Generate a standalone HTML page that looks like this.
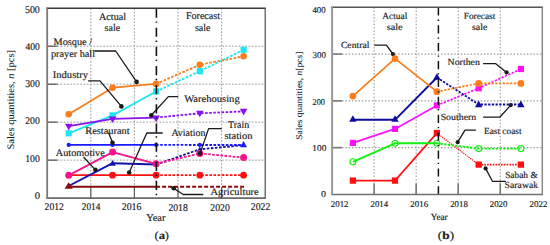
<!DOCTYPE html>
<html><head><meta charset="utf-8"><style>
html,body{margin:0;padding:0;background:#fff;width:550px;height:245px;overflow:hidden}
svg{display:block;font-family:"Liberation Serif", serif;text-rendering:geometricPrecision}
</style></head><body>
<svg width="550" height="245" viewBox="0 0 550 245">
<line x1="90.80000000000001" y1="8.2" x2="90.80000000000001" y2="198.1" stroke="#8e8e8e" stroke-width="0.85" stroke-dasharray="1.8,1.5" stroke-linecap="butt"/>
<line x1="134.4" y1="8.2" x2="134.4" y2="198.1" stroke="#8e8e8e" stroke-width="0.85" stroke-dasharray="1.8,1.5" stroke-linecap="butt"/>
<line x1="178.0" y1="8.2" x2="178.0" y2="198.1" stroke="#8e8e8e" stroke-width="0.85" stroke-dasharray="1.8,1.5" stroke-linecap="butt"/>
<line x1="221.60000000000002" y1="8.2" x2="221.60000000000002" y2="198.1" stroke="#8e8e8e" stroke-width="0.85" stroke-dasharray="1.8,1.5" stroke-linecap="butt"/>
<line x1="47.2" y1="160.12" x2="265.2" y2="160.12" stroke="#8e8e8e" stroke-width="0.85" stroke-dasharray="1.8,1.5" stroke-linecap="butt"/>
<line x1="47.2" y1="122.14" x2="265.2" y2="122.14" stroke="#8e8e8e" stroke-width="0.85" stroke-dasharray="1.8,1.5" stroke-linecap="butt"/>
<line x1="47.2" y1="84.16" x2="265.2" y2="84.16" stroke="#8e8e8e" stroke-width="0.85" stroke-dasharray="1.8,1.5" stroke-linecap="butt"/>
<line x1="47.2" y1="46.18000000000001" x2="265.2" y2="46.18000000000001" stroke="#8e8e8e" stroke-width="0.85" stroke-dasharray="1.8,1.5" stroke-linecap="butt"/>
<line x1="90.80000000000001" y1="187.6" x2="90.80000000000001" y2="198.1" stroke="#5a5a5a" stroke-width="1.2" stroke-linecap="butt"/>
<line x1="134.4" y1="187.6" x2="134.4" y2="198.1" stroke="#5a5a5a" stroke-width="1.2" stroke-linecap="butt"/>
<line x1="178.0" y1="187.6" x2="178.0" y2="198.1" stroke="#5a5a5a" stroke-width="1.2" stroke-linecap="butt"/>
<line x1="221.60000000000002" y1="187.6" x2="221.60000000000002" y2="198.1" stroke="#5a5a5a" stroke-width="1.2" stroke-linecap="butt"/>
<line x1="47.2" y1="160.12" x2="57.5" y2="160.12" stroke="#333" stroke-width="1.0" stroke-linecap="butt"/>
<line x1="47.2" y1="122.14" x2="57.5" y2="122.14" stroke="#333" stroke-width="1.0" stroke-linecap="butt"/>
<line x1="47.2" y1="84.16" x2="57.5" y2="84.16" stroke="#333" stroke-width="1.0" stroke-linecap="butt"/>
<line x1="47.2" y1="46.18000000000001" x2="57.5" y2="46.18000000000001" stroke="#333" stroke-width="1.0" stroke-linecap="butt"/>
<polyline points="68.70,186.80 156.10,186.80" fill="none" stroke="#8a0b0b" stroke-width="2.0" stroke-linecap="butt" stroke-linejoin="round"/>
<polyline points="156.10,186.80 244.50,186.80" fill="none" stroke="#8a0b0b" stroke-width="1.9" stroke-dasharray="4,2" stroke-linecap="butt" stroke-linejoin="round"/>
<polyline points="68.70,175.20 112.60,175.20 156.10,175.20" fill="none" stroke="#ff1010" stroke-width="1.7" stroke-linecap="butt" stroke-linejoin="round"/>
<polyline points="156.10,175.20 199.80,175.10 243.60,175.10" fill="none" stroke="#ff1010" stroke-width="1.7" stroke-dasharray="2.6,1.5" stroke-linecap="butt" stroke-linejoin="round"/>
<circle cx="112.6" cy="175.2" r="3.4" fill="#ff1010"/>
<circle cx="156.1" cy="175.2" r="3.4" fill="#ff1010"/>
<circle cx="199.8" cy="175.2" r="3.4" fill="#ff1010"/>
<circle cx="243.6" cy="175.2" r="3.4" fill="#ff1010"/>
<polyline points="68.70,186.00 112.60,163.20 156.10,164.50" fill="none" stroke="#1212a8" stroke-width="1.9" stroke-linecap="butt" stroke-linejoin="round"/>
<polyline points="156.10,164.50 199.80,149.30 243.60,145.20" fill="none" stroke="#1212a8" stroke-width="1.8" stroke-dasharray="2.6,1.5" stroke-linecap="butt" stroke-linejoin="round"/>
<polygon points="109.30,165.70 115.90,165.70 112.60,159.90" fill="#1212a8"/>
<polygon points="197.05,151.60 202.55,151.60 199.80,146.60" fill="#1212a8"/>
<polygon points="64.60,188.85 72.80,188.85 68.70,182.15" fill="#8a0b0b"/>
<polyline points="68.70,175.40 112.60,152.10 156.10,163.80" fill="none" stroke="#f5148a" stroke-width="1.8" stroke-linecap="butt" stroke-linejoin="round"/>
<polyline points="156.10,163.80 199.80,153.40 243.60,157.60" fill="none" stroke="#f5148a" stroke-width="1.8" stroke-dasharray="2.6,1.5" stroke-linecap="butt" stroke-linejoin="round"/>
<circle cx="68.7" cy="175.3" r="3.5" fill="#f5148a"/>
<circle cx="112.6" cy="152.1" r="3.5" fill="#f5148a"/>
<circle cx="156.1" cy="163.8" r="3.5" fill="#f5148a"/>
<circle cx="199.8" cy="153.4" r="3.5" fill="#f5148a"/>
<circle cx="243.6" cy="157.6" r="3.5" fill="#f5148a"/>
<polyline points="68.70,144.90 112.60,144.90 156.10,144.90" fill="none" stroke="#1a1aff" stroke-width="1.8" stroke-linecap="butt" stroke-linejoin="round"/>
<polyline points="156.10,144.90 199.80,145.00 243.60,145.00" fill="none" stroke="#1a1aff" stroke-width="1.8" stroke-dasharray="2.6,1.5" stroke-linecap="butt" stroke-linejoin="round"/>
<circle cx="68.7" cy="144.9" r="2.1" fill="#1a1aff"/>
<circle cx="112.6" cy="144.9" r="2.1" fill="#1a1aff"/>
<circle cx="156.1" cy="144.9" r="2.1" fill="#1a1aff"/>
<circle cx="199.8" cy="144.9" r="2.1" fill="#1a1aff"/>
<polygon points="240.20,147.30 247.00,147.30 243.60,141.10" fill="#1a1aff"/>
<polyline points="68.70,133.30 112.60,115.40 156.10,91.50" fill="none" stroke="#1fe5f3" stroke-width="1.8" stroke-linecap="butt" stroke-linejoin="round"/>
<polyline points="156.10,91.50 199.80,71.20 243.60,49.80" fill="none" stroke="#1fe5f3" stroke-width="1.8" stroke-dasharray="2.6,1.5" stroke-linecap="butt" stroke-linejoin="round"/>
<rect x="65.60" y="130.20" width="6.2" height="6.2" fill="#1fe5f3"/>
<rect x="109.50" y="112.30" width="6.2" height="6.2" fill="#1fe5f3"/>
<rect x="153.00" y="88.40" width="6.2" height="6.2" fill="#1fe5f3"/>
<rect x="196.70" y="68.10" width="6.2" height="6.2" fill="#1fe5f3"/>
<rect x="240.50" y="46.70" width="6.2" height="6.2" fill="#1fe5f3"/>
<polyline points="68.70,126.20 112.60,118.80 156.10,117.60" fill="none" stroke="#8a12f0" stroke-width="1.8" stroke-linecap="butt" stroke-linejoin="round"/>
<polyline points="156.10,117.60 199.80,113.30 243.60,111.40" fill="none" stroke="#8a12f0" stroke-width="1.8" stroke-dasharray="2.6,1.5" stroke-linecap="butt" stroke-linejoin="round"/>
<polygon points="64.90,123.80 72.50,123.80 68.70,130.40" fill="#8a12f0"/>
<polygon points="108.80,116.40 116.40,116.40 112.60,123.00" fill="#8a12f0"/>
<polygon points="152.30,115.60 159.90,115.60 156.10,122.20" fill="#8a12f0"/>
<polygon points="196.00,110.70 203.60,110.70 199.80,117.30" fill="#8a12f0"/>
<polygon points="239.80,108.80 247.40,108.80 243.60,115.40" fill="#8a12f0"/>
<polyline points="68.70,114.30 112.60,87.70 156.10,83.90" fill="none" stroke="#fb7d1b" stroke-width="1.8" stroke-linecap="butt" stroke-linejoin="round"/>
<polyline points="156.10,83.90 199.80,64.80 243.60,56.30" fill="none" stroke="#fb7d1b" stroke-width="1.8" stroke-dasharray="2.6,1.5" stroke-linecap="butt" stroke-linejoin="round"/>
<circle cx="68.7" cy="114.3" r="3.3" fill="#fb7d1b"/>
<circle cx="112.6" cy="87.7" r="3.3" fill="#fb7d1b"/>
<circle cx="156.1" cy="83.9" r="3.3" fill="#fb7d1b"/>
<circle cx="199.8" cy="64.8" r="3.3" fill="#fb7d1b"/>
<circle cx="243.6" cy="56.3" r="3.3" fill="#fb7d1b"/>
<polyline points="94.50,51.00 115.70,51.00 136.60,81.90" fill="none" stroke="#1a1a1a" stroke-width="1.3" stroke-linecap="butt" stroke-linejoin="round"/>
<circle cx="136.6" cy="81.9" r="2.3" fill="#1a1a1a"/>
<polyline points="88.10,80.80 100.00,80.80 121.40,106.40" fill="none" stroke="#1a1a1a" stroke-width="1.3" stroke-linecap="butt" stroke-linejoin="round"/>
<circle cx="121.4" cy="106.4" r="2.3" fill="#1a1a1a"/>
<polyline points="178.20,96.60 168.40,96.60 151.30,115.20" fill="none" stroke="#1a1a1a" stroke-width="1.3" stroke-linecap="butt" stroke-linejoin="round"/>
<circle cx="151.3" cy="115.2" r="2.3" fill="#1a1a1a"/>
<polyline points="108.50,132.50 112.50,142.50" fill="none" stroke="#1a1a1a" stroke-width="1.3" stroke-linecap="butt" stroke-linejoin="round"/>
<circle cx="112.5" cy="142.8" r="2.3" fill="#1a1a1a"/>
<polyline points="162.70,133.00 146.80,133.00 129.20,172.50" fill="none" stroke="#1a1a1a" stroke-width="1.3" stroke-linecap="butt" stroke-linejoin="round"/>
<circle cx="129.2" cy="172.5" r="2.3" fill="#1a1a1a"/>
<polyline points="221.80,128.60 208.60,128.60 200.10,153.40" fill="none" stroke="#1a1a1a" stroke-width="1.3" stroke-linecap="butt" stroke-linejoin="round"/>
<circle cx="200.1" cy="153.4" r="2.3" fill="#1a1a1a"/>
<polyline points="83.50,157.00 95.40,169.90" fill="none" stroke="#1a1a1a" stroke-width="1.3" stroke-linecap="butt" stroke-linejoin="round"/>
<circle cx="95.4" cy="169.9" r="2.3" fill="#1a1a1a"/>
<polyline points="173.70,188.20 183.20,194.50 203.20,194.50" fill="none" stroke="#1a1a1a" stroke-width="1.3" stroke-linecap="butt" stroke-linejoin="round"/>
<circle cx="173.7" cy="188.2" r="2.3" fill="#1a1a1a"/>
<line x1="156.4" y1="8.5" x2="156.4" y2="198" stroke="#111" stroke-width="1.6" stroke-dasharray="9.2,3.7,1.4,4.85"/>
<line x1="46.400000000000006" y1="8.2" x2="265.9" y2="8.2" stroke="#3a3a3a" stroke-width="1.5" stroke-linecap="butt"/>
<line x1="265.2" y1="8.2" x2="265.2" y2="198.1" stroke="#555" stroke-width="1.25" stroke-linecap="butt"/>
<line x1="46.300000000000004" y1="198.1" x2="265.9" y2="198.1" stroke="#6a6a6a" stroke-width="1.6" stroke-linecap="butt"/>
<line x1="47.2" y1="7.499999999999999" x2="47.2" y2="198.9" stroke="#7a7a7a" stroke-width="1.8" stroke-linecap="butt"/>
<text transform="translate(14.3,149.55) rotate(-90)" x="0" y="0" font-size="10" fill="#1e1e1e" stroke="#1e1e1e" stroke-width="0.08" textLength="99.6" lengthAdjust="spacingAndGlyphs">Sales quantities, <tspan font-style="italic">n</tspan> [pcs]</text>
<line x1="374.14" y1="7.3" x2="374.14" y2="194.4" stroke="#9c9c9c" stroke-width="1.1" stroke-dasharray="1.5,1.8" stroke-linecap="butt"/>
<line x1="416.18" y1="7.3" x2="416.18" y2="194.4" stroke="#9c9c9c" stroke-width="1.1" stroke-dasharray="1.5,1.8" stroke-linecap="butt"/>
<line x1="458.21999999999997" y1="7.3" x2="458.21999999999997" y2="194.4" stroke="#9c9c9c" stroke-width="1.1" stroke-dasharray="1.5,1.8" stroke-linecap="butt"/>
<line x1="500.26" y1="7.3" x2="500.26" y2="194.4" stroke="#9c9c9c" stroke-width="1.1" stroke-dasharray="1.5,1.8" stroke-linecap="butt"/>
<line x1="332.1" y1="147.625" x2="542.3" y2="147.625" stroke="#9c9c9c" stroke-width="1.1" stroke-dasharray="1.5,1.8" stroke-linecap="butt"/>
<line x1="332.1" y1="100.85000000000001" x2="542.3" y2="100.85000000000001" stroke="#9c9c9c" stroke-width="1.1" stroke-dasharray="1.5,1.8" stroke-linecap="butt"/>
<line x1="332.1" y1="54.07500000000002" x2="542.3" y2="54.07500000000002" stroke="#9c9c9c" stroke-width="1.1" stroke-dasharray="1.5,1.8" stroke-linecap="butt"/>
<line x1="374.14" y1="183.4" x2="374.14" y2="194.4" stroke="#777" stroke-width="1.6" stroke-linecap="butt"/>
<line x1="416.18" y1="183.4" x2="416.18" y2="194.4" stroke="#777" stroke-width="1.6" stroke-linecap="butt"/>
<line x1="458.21999999999997" y1="183.4" x2="458.21999999999997" y2="194.4" stroke="#777" stroke-width="1.6" stroke-linecap="butt"/>
<line x1="500.26" y1="183.4" x2="500.26" y2="194.4" stroke="#777" stroke-width="1.6" stroke-linecap="butt"/>
<line x1="332.1" y1="147.625" x2="342.1" y2="147.625" stroke="#777" stroke-width="1.6" stroke-linecap="butt"/>
<line x1="332.1" y1="100.85000000000001" x2="342.1" y2="100.85000000000001" stroke="#777" stroke-width="1.6" stroke-linecap="butt"/>
<line x1="332.1" y1="54.07500000000002" x2="342.1" y2="54.07500000000002" stroke="#777" stroke-width="1.6" stroke-linecap="butt"/>
<polyline points="352.90,180.60 395.00,180.60 436.90,133.10" fill="none" stroke="#ff1010" stroke-width="1.6" stroke-linecap="butt" stroke-linejoin="round"/>
<polyline points="436.90,133.10 478.70,164.60" fill="none" stroke="#ff1010" stroke-width="1.2" stroke-dasharray="1.3,0.9" stroke-linecap="butt" stroke-linejoin="round"/>
<polyline points="478.70,164.60 520.90,164.60" fill="none" stroke="#ff1010" stroke-width="1.6" stroke-dasharray="1.6,1.2" stroke-linecap="butt" stroke-linejoin="round"/>
<rect x="349.75" y="177.45" width="6.3" height="6.3" fill="#ff1010"/>
<rect x="391.85" y="177.45" width="6.3" height="6.3" fill="#ff1010"/>
<rect x="433.75" y="129.95" width="6.3" height="6.3" fill="#ff1010"/>
<rect x="475.55" y="161.45" width="6.3" height="6.3" fill="#ff1010"/>
<rect x="517.75" y="161.45" width="6.3" height="6.3" fill="#ff1010"/>
<polyline points="352.90,161.80 395.00,143.30 436.90,143.30" fill="none" stroke="#12f012" stroke-width="1.9" stroke-linecap="butt" stroke-linejoin="round"/>
<polyline points="436.90,143.30 478.70,148.60 520.90,148.60" fill="none" stroke="#12f012" stroke-width="1.9" stroke-dasharray="2.3,1.4" stroke-linecap="butt" stroke-linejoin="round"/>
<circle cx="352.9" cy="161.8" r="3.0" fill="none" stroke="#12f012" stroke-width="1.1"/>
<circle cx="395.0" cy="143.3" r="3.0" fill="none" stroke="#12f012" stroke-width="1.1"/>
<circle cx="436.9" cy="143.3" r="3.0" fill="none" stroke="#12f012" stroke-width="1.1"/>
<circle cx="478.7" cy="148.6" r="3.0" fill="none" stroke="#12f012" stroke-width="1.1"/>
<circle cx="520.9" cy="148.6" r="3.0" fill="none" stroke="#12f012" stroke-width="1.1"/>
<polyline points="352.90,142.90 395.00,128.90 436.90,105.40" fill="none" stroke="#ff10ff" stroke-width="1.7" stroke-linecap="butt" stroke-linejoin="round"/>
<polyline points="436.90,105.40 478.70,88.30 520.90,69.00" fill="none" stroke="#ff10ff" stroke-width="1.7" stroke-dasharray="2.3,1.4" stroke-linecap="butt" stroke-linejoin="round"/>
<rect x="349.80" y="139.80" width="6.2" height="6.2" fill="#ff10ff"/>
<rect x="391.90" y="125.80" width="6.2" height="6.2" fill="#ff10ff"/>
<rect x="433.80" y="102.30" width="6.2" height="6.2" fill="#ff10ff"/>
<rect x="475.60" y="85.20" width="6.2" height="6.2" fill="#ff10ff"/>
<rect x="517.80" y="65.90" width="6.2" height="6.2" fill="#ff10ff"/>
<polyline points="352.90,119.80 395.00,119.80 436.90,77.50" fill="none" stroke="#0d0d9a" stroke-width="1.9" stroke-linecap="butt" stroke-linejoin="round"/>
<polyline points="436.90,77.50 478.70,104.50 520.90,104.50" fill="none" stroke="#0d0d9a" stroke-width="1.8" stroke-dasharray="2.3,1.4" stroke-linecap="butt" stroke-linejoin="round"/>
<polygon points="349.20,121.80 356.60,121.80 352.90,115.20" fill="#0d0d9a"/>
<polygon points="391.30,121.80 398.70,121.80 395.00,115.20" fill="#0d0d9a"/>
<polygon points="433.20,79.80 440.60,79.80 436.90,73.20" fill="#0d0d9a"/>
<polygon points="475.00,107.20 482.40,107.20 478.70,100.60" fill="#0d0d9a"/>
<polygon points="517.20,107.20 524.60,107.20 520.90,100.60" fill="#0d0d9a"/>
<polyline points="352.90,96.10 395.00,58.60 436.90,91.70" fill="none" stroke="#fb7d1b" stroke-width="1.7" stroke-linecap="butt" stroke-linejoin="round"/>
<polyline points="436.90,91.70 478.70,83.40 520.90,83.40" fill="none" stroke="#fb7d1b" stroke-width="1.7" stroke-dasharray="2.3,1.4" stroke-linecap="butt" stroke-linejoin="round"/>
<circle cx="352.9" cy="96.1" r="3.4" fill="#fb7d1b"/>
<circle cx="395.0" cy="58.6" r="3.4" fill="#fb7d1b"/>
<circle cx="436.9" cy="91.7" r="3.4" fill="#fb7d1b"/>
<circle cx="478.7" cy="83.4" r="3.4" fill="#fb7d1b"/>
<circle cx="520.9" cy="83.4" r="3.4" fill="#fb7d1b"/>
<polyline points="374.20,45.20 386.40,45.20 392.90,54.00" fill="none" stroke="#1a1a1a" stroke-width="1.3" stroke-linecap="butt" stroke-linejoin="round"/>
<circle cx="392.9" cy="54" r="2.1" fill="#1a1a1a"/>
<polyline points="483.10,63.70 495.80,63.70 506.60,72.40" fill="none" stroke="#1a1a1a" stroke-width="1.3" stroke-linecap="butt" stroke-linejoin="round"/>
<circle cx="506.6" cy="72.4" r="2.1" fill="#1a1a1a"/>
<polyline points="483.10,117.20 499.80,117.20 510.70,105.10" fill="none" stroke="#1a1a1a" stroke-width="1.3" stroke-linecap="butt" stroke-linejoin="round"/>
<circle cx="510.7" cy="105.1" r="2.1" fill="#1a1a1a"/>
<polyline points="475.90,130.20 465.00,130.20 457.70,142.20" fill="none" stroke="#1a1a1a" stroke-width="1.3" stroke-linecap="butt" stroke-linejoin="round"/>
<circle cx="457.7" cy="142.2" r="2.1" fill="#1a1a1a"/>
<polyline points="485.60,168.40 492.40,181.30 505.90,181.30" fill="none" stroke="#1a1a1a" stroke-width="1.3" stroke-linecap="butt" stroke-linejoin="round"/>
<circle cx="485.6" cy="168.4" r="2.1" fill="#1a1a1a"/>
<line x1="438.4" y1="7.3" x2="438.4" y2="194.4" stroke="#111" stroke-width="1.5" stroke-dasharray="8.2,4.1,1.3,4.3" stroke-linecap="butt"/>
<line x1="331.1" y1="7.3" x2="543.0" y2="7.3" stroke="#555" stroke-width="1.5" stroke-linecap="butt"/>
<line x1="542.3" y1="7.3" x2="542.3" y2="194.4" stroke="#8a8a8a" stroke-width="1.5" stroke-linecap="butt"/>
<line x1="331.1" y1="194.4" x2="543.0" y2="194.4" stroke="#707070" stroke-width="1.5" stroke-linecap="butt"/>
<line x1="332.1" y1="6.6" x2="332.1" y2="195.1" stroke="#999" stroke-width="2" stroke-linecap="butt"/>
<text transform="translate(302.0,139.7) rotate(-90)" x="0" y="0" font-size="8.8" fill="#1e1e1e" stroke="#1e1e1e" stroke-width="0.08" textLength="88.1" lengthAdjust="spacingAndGlyphs">Sales quantities, <tspan font-style="italic">n</tspan>[pcs]</text>
<text x="99.00" y="19.80" font-size="10.2" font-weight="normal" fill="#1a1a1a" stroke="#1a1a1a" stroke-width="0.16" textLength="27.04" lengthAdjust="spacingAndGlyphs">Actual</text>
<text x="104.55" y="30.55" font-size="10.2" font-weight="normal" fill="#1a1a1a" stroke="#1a1a1a" stroke-width="0.16" textLength="15.55" lengthAdjust="spacingAndGlyphs">sale</text>
<text x="185.90" y="18.80" font-size="10.2" font-weight="normal" fill="#1a1a1a" stroke="#1a1a1a" stroke-width="0.16" textLength="34.15" lengthAdjust="spacingAndGlyphs">Forecast</text>
<text x="194.90" y="30.55" font-size="10.2" font-weight="normal" fill="#1a1a1a" stroke="#1a1a1a" stroke-width="0.16" textLength="15.40" lengthAdjust="spacingAndGlyphs">sale</text>
<text x="53.60" y="45.25" font-size="10" font-weight="normal" fill="#1a1a1a" stroke="#1a1a1a" stroke-width="0.16" textLength="38.45" lengthAdjust="spacingAndGlyphs">Mosque /</text>
<text x="51.00" y="57.00" font-size="10" font-weight="normal" fill="#1a1a1a" stroke="#1a1a1a" stroke-width="0.16" textLength="44.05" lengthAdjust="spacingAndGlyphs">prayer hall</text>
<text x="52.75" y="78.00" font-size="10" font-weight="normal" fill="#1a1a1a" stroke="#1a1a1a" stroke-width="0.16" textLength="35.30" lengthAdjust="spacingAndGlyphs">Industry</text>
<text x="184.20" y="102.35" font-size="10" font-weight="normal" fill="#1a1a1a" stroke="#1a1a1a" stroke-width="0.16" textLength="55.50" lengthAdjust="spacingAndGlyphs">Warehousing</text>
<text x="85.25" y="133.75" font-size="10" font-weight="normal" fill="#1a1a1a" stroke="#1a1a1a" stroke-width="0.16" textLength="44.30" lengthAdjust="spacingAndGlyphs">Restaurant</text>
<text x="55.85" y="155.75" font-size="10" font-weight="normal" fill="#1a1a1a" stroke="#1a1a1a" stroke-width="0.16" textLength="48.95" lengthAdjust="spacingAndGlyphs">Automotive</text>
<text x="171.45" y="135.55" font-size="10" font-weight="normal" fill="#1a1a1a" stroke="#1a1a1a" stroke-width="0.16" textLength="33.96" lengthAdjust="spacingAndGlyphs">Aviation</text>
<text x="228.00" y="127.80" font-size="10" font-weight="normal" fill="#1a1a1a" stroke="#1a1a1a" stroke-width="0.16" textLength="21.35" lengthAdjust="spacingAndGlyphs">Train</text>
<text x="224.55" y="138.55" font-size="10" font-weight="normal" fill="#1a1a1a" stroke="#1a1a1a" stroke-width="0.16" textLength="27.81" lengthAdjust="spacingAndGlyphs">station</text>
<text x="210.50" y="195.25" font-size="10" font-weight="normal" fill="#1a1a1a" stroke="#1a1a1a" stroke-width="0.16" textLength="48.25" lengthAdjust="spacingAndGlyphs">Agriculture</text>
<text x="24.95" y="13.30" font-size="10.3" font-weight="normal" fill="#1a1a1a" stroke="#1a1a1a" stroke-width="0.16" textLength="14.83" lengthAdjust="spacingAndGlyphs">500</text>
<text x="25.45" y="50.15" font-size="10.3" font-weight="normal" fill="#1a1a1a" stroke="#1a1a1a" stroke-width="0.16" textLength="14.31" lengthAdjust="spacingAndGlyphs">400</text>
<text x="25.20" y="87.15" font-size="10.3" font-weight="normal" fill="#1a1a1a" stroke="#1a1a1a" stroke-width="0.16" textLength="14.56" lengthAdjust="spacingAndGlyphs">300</text>
<text x="25.20" y="124.30" font-size="10.3" font-weight="normal" fill="#1a1a1a" stroke="#1a1a1a" stroke-width="0.16" textLength="14.55" lengthAdjust="spacingAndGlyphs">200</text>
<text x="25.20" y="161.75" font-size="10.3" font-weight="normal" fill="#1a1a1a" stroke="#1a1a1a" stroke-width="0.16" textLength="14.63" lengthAdjust="spacingAndGlyphs">100</text>
<text x="34.85" y="199.45" font-size="10.3" font-weight="normal" fill="#1a1a1a" stroke="#1a1a1a" stroke-width="0.16" textLength="5.31" lengthAdjust="spacingAndGlyphs">0</text>
<text x="44.55" y="209.90" font-size="10.3" font-weight="normal" fill="#1a1a1a" stroke="#1a1a1a" stroke-width="0.16" textLength="19.32" lengthAdjust="spacingAndGlyphs">2012</text>
<text x="81.75" y="210.00" font-size="10.3" font-weight="normal" fill="#1a1a1a" stroke="#1a1a1a" stroke-width="0.16" textLength="18.61" lengthAdjust="spacingAndGlyphs">2014</text>
<text x="121.70" y="209.90" font-size="10.3" font-weight="normal" fill="#1a1a1a" stroke="#1a1a1a" stroke-width="0.16" textLength="19.77" lengthAdjust="spacingAndGlyphs">2016</text>
<text x="168.40" y="210.70" font-size="10.3" font-weight="normal" fill="#1a1a1a" stroke="#1a1a1a" stroke-width="0.16" textLength="19.35" lengthAdjust="spacingAndGlyphs">2018</text>
<text x="210.25" y="211.40" font-size="10.3" font-weight="normal" fill="#1a1a1a" stroke="#1a1a1a" stroke-width="0.16" textLength="19.55" lengthAdjust="spacingAndGlyphs">2020</text>
<text x="250.85" y="209.60" font-size="10.3" font-weight="normal" fill="#1a1a1a" stroke="#1a1a1a" stroke-width="0.16" textLength="19.47" lengthAdjust="spacingAndGlyphs">2022</text>
<text x="146.15" y="220.80" font-size="10.2" font-weight="normal" fill="#1a1a1a" stroke="#1a1a1a" stroke-width="0.16" textLength="19.26" lengthAdjust="spacingAndGlyphs">Year</text>
<text x="154.50" y="238.80" font-size="11" font-weight="normal" fill="#1a1a1a" stroke="#1a1a1a" stroke-width="0.16" textLength="14.52" lengthAdjust="spacingAndGlyphs">(<tspan font-weight="bold">a</tspan>)</text>
<text x="382.20" y="18.75" font-size="9.3" font-weight="normal" fill="#1a1a1a" stroke="#1a1a1a" stroke-width="0.16" textLength="25.06" lengthAdjust="spacingAndGlyphs">Actual</text>
<text x="386.75" y="29.70" font-size="9.3" font-weight="normal" fill="#1a1a1a" stroke="#1a1a1a" stroke-width="0.16" textLength="15.92" lengthAdjust="spacingAndGlyphs">sale</text>
<text x="463.80" y="19.35" font-size="9.3" font-weight="normal" fill="#1a1a1a" stroke="#1a1a1a" stroke-width="0.16" textLength="31.41" lengthAdjust="spacingAndGlyphs">Forecast</text>
<text x="471.90" y="29.70" font-size="9.3" font-weight="normal" fill="#1a1a1a" stroke="#1a1a1a" stroke-width="0.16" textLength="15.40" lengthAdjust="spacingAndGlyphs">sale</text>
<text x="340.90" y="47.65" font-size="9.3" font-weight="normal" fill="#1a1a1a" stroke="#1a1a1a" stroke-width="0.16" textLength="28.51" lengthAdjust="spacingAndGlyphs">Central</text>
<text x="447.60" y="65.40" font-size="9.3" font-weight="normal" fill="#1a1a1a" stroke="#1a1a1a" stroke-width="0.16" textLength="32.26" lengthAdjust="spacingAndGlyphs">Northen</text>
<text x="440.65" y="120.20" font-size="9.3" font-weight="normal" fill="#1a1a1a" stroke="#1a1a1a" stroke-width="0.16" textLength="35.61" lengthAdjust="spacingAndGlyphs">Southern</text>
<text x="483.95" y="134.35" font-size="9.3" font-weight="normal" fill="#1a1a1a" stroke="#1a1a1a" stroke-width="0.16" textLength="37.56" lengthAdjust="spacingAndGlyphs">East coast</text>
<text x="505.15" y="177.60" font-size="9.3" font-weight="normal" fill="#1a1a1a" stroke="#1a1a1a" stroke-width="0.16" textLength="32.55" lengthAdjust="spacingAndGlyphs">Sabah &amp;</text>
<text x="504.60" y="187.55" font-size="9.3" font-weight="normal" fill="#1a1a1a" stroke="#1a1a1a" stroke-width="0.16" textLength="33.56" lengthAdjust="spacingAndGlyphs">Sarawak</text>
<text x="312.45" y="12.65" font-size="8.9" font-weight="normal" fill="#1a1a1a" stroke="#1a1a1a" stroke-width="0.16" textLength="13.20" lengthAdjust="spacingAndGlyphs">400</text>
<text x="312.55" y="58.20" font-size="8.9" font-weight="normal" fill="#1a1a1a" stroke="#1a1a1a" stroke-width="0.16" textLength="13.42" lengthAdjust="spacingAndGlyphs">300</text>
<text x="312.55" y="104.75" font-size="8.9" font-weight="normal" fill="#1a1a1a" stroke="#1a1a1a" stroke-width="0.16" textLength="12.36" lengthAdjust="spacingAndGlyphs">200</text>
<text x="312.30" y="150.70" font-size="8.9" font-weight="normal" fill="#1a1a1a" stroke="#1a1a1a" stroke-width="0.16" textLength="14.02" lengthAdjust="spacingAndGlyphs">100</text>
<text x="321.10" y="197.45" font-size="8.9" font-weight="normal" fill="#1a1a1a" stroke="#1a1a1a" stroke-width="0.16" textLength="5.03" lengthAdjust="spacingAndGlyphs">0</text>
<text x="330.75" y="206.80" font-size="8.9" font-weight="normal" fill="#1a1a1a" stroke="#1a1a1a" stroke-width="0.16" textLength="17.77" lengthAdjust="spacingAndGlyphs">2012</text>
<text x="370.60" y="206.80" font-size="8.9" font-weight="normal" fill="#1a1a1a" stroke="#1a1a1a" stroke-width="0.16" textLength="17.44" lengthAdjust="spacingAndGlyphs">2014</text>
<text x="410.25" y="206.80" font-size="8.9" font-weight="normal" fill="#1a1a1a" stroke="#1a1a1a" stroke-width="0.16" textLength="17.86" lengthAdjust="spacingAndGlyphs">2016</text>
<text x="450.20" y="206.80" font-size="8.9" font-weight="normal" fill="#1a1a1a" stroke="#1a1a1a" stroke-width="0.16" textLength="17.70" lengthAdjust="spacingAndGlyphs">2018</text>
<text x="489.75" y="207.15" font-size="8.9" font-weight="normal" fill="#1a1a1a" stroke="#1a1a1a" stroke-width="0.16" textLength="17.71" lengthAdjust="spacingAndGlyphs">2020</text>
<text x="529.55" y="207.15" font-size="8.9" font-weight="normal" fill="#1a1a1a" stroke="#1a1a1a" stroke-width="0.16" textLength="17.97" lengthAdjust="spacingAndGlyphs">2022</text>
<text x="430.70" y="220.20" font-size="9.3" font-weight="normal" fill="#1a1a1a" stroke="#1a1a1a" stroke-width="0.16" textLength="16.97" lengthAdjust="spacingAndGlyphs">Year</text>
<text x="437.85" y="238.75" font-size="11" font-weight="normal" fill="#1a1a1a" stroke="#1a1a1a" stroke-width="0.16" textLength="16.23" lengthAdjust="spacingAndGlyphs">(<tspan font-weight="bold">b</tspan>)</text>
</svg>
</body></html>
